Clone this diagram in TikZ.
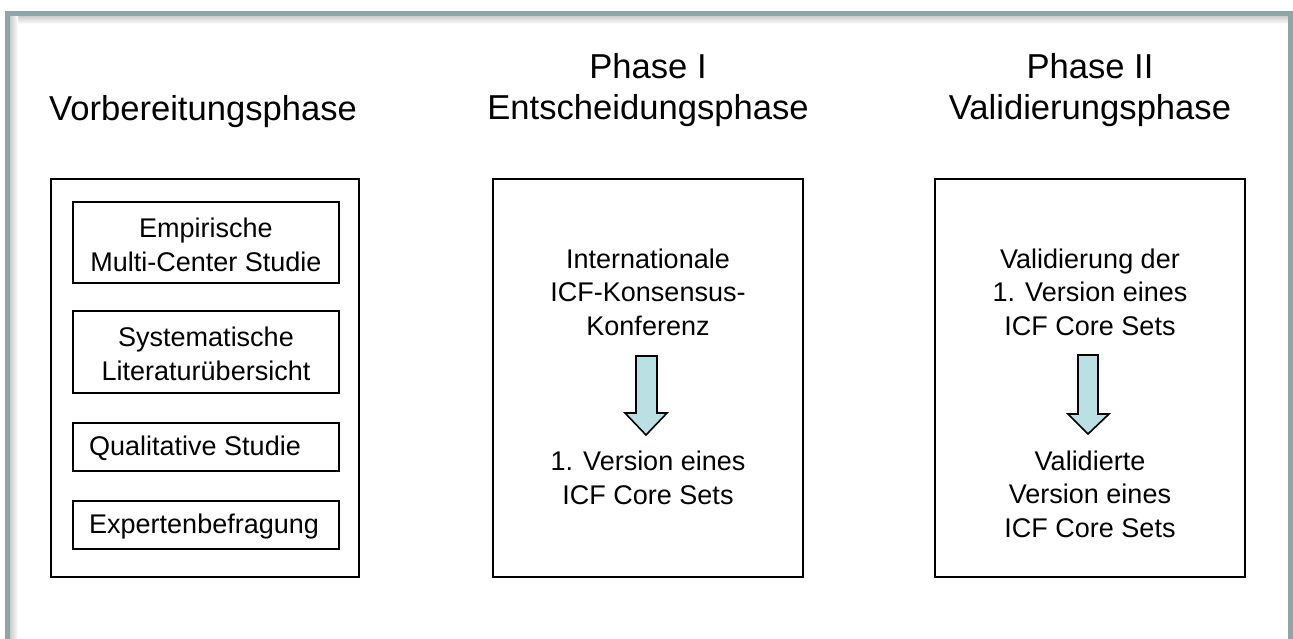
\documentclass[tikz,border=0pt]{standalone}
\usepackage{fontspec}
\setmainfont{Liberation Sans}
\definecolor{framecol}{RGB}{143,166,168}
\definecolor{arrowfill}{RGB}{185,224,227}
\begin{document}
\begin{tikzpicture}[x=1pt,y=-1pt,
  box/.style={draw=black,line width=1.6pt},
  big/.style={font=\fontsize{34.6}{41.5}\selectfont,align=center,inner sep=0pt},
  txt/.style={font=\fontsize{27}{33.6}\selectfont,align=center,inner sep=0pt},
  blockarrow/.style={draw=black,line width=1.6pt,fill=arrowfill,line join=miter}]
\useasboundingbox (0,0) rectangle (1293,639);
\fill[white] (0,0) rectangle (1293,639);
% frame with inner shadow
\shade[top color=black!20,bottom color=white] (10,16) rectangle (1288,24);
\shade[left color=black!20,right color=white] (10,16) rectangle (18,639);
\draw[framecol,line width=5pt] (7.5,645) -- (7.5,14) -- (1290,14) -- (1290,645);
% headings
\node[big] (h1) at (203,112) {Vorbereitungsphase};
\node[big] (h2) at (648,90) {Phase I\\Entscheidungsphase};
\node[big] (h3) at (1090,90) {Phase II\\Validierungsphase};
% big boxes
\draw[box] (51,179) rectangle (359,577);
\draw[box] (493,179) rectangle (803,577);
\draw[box] (935,179) rectangle (1245,577);
% left inner boxes
\draw[box] (73,202) rectangle (339,283);
\node[txt] (e1) at (206,245) {Empirische\\Multi-Center Studie};
\draw[box] (73,311) rectangle (339,393);
\node[txt] (e2) at (206,354) {Systematische\\Literaturübersicht};
\draw[box] (73,423) rectangle (339,471);
\node[txt,anchor=west] (e3) at (89,448) {Qualitative Studie};
\draw[box] (73,501) rectangle (339,549);
\node[txt,anchor=west] (e4) at (89,527) {Expertenbefragung};
% phase I
\node[txt] (p1a) at (648,292) {Internationale\\ICF-Konsensus-\\Konferenz};
\node[txt] (p1b) at (648,478) {1. Version eines\\ICF Core Sets};
\draw[blockarrow] (636,356) -- (657,356) -- (657,413) -- (667,413) -- (646,435) -- (625,413) -- (636,413) -- cycle;
% phase II
\node[txt] (p2a) at (1090,292) {Validierung der\\1. Version eines\\ICF Core Sets};
\node[txt] (p2b) at (1090,494) {Validierte\\Version eines\\ICF Core Sets};
\draw[blockarrow] (1078,355) -- (1098,355) -- (1098,414) -- (1109,414) -- (1088,434) -- (1068,414) -- (1078,414) -- cycle;
\end{tikzpicture}
\end{document}
